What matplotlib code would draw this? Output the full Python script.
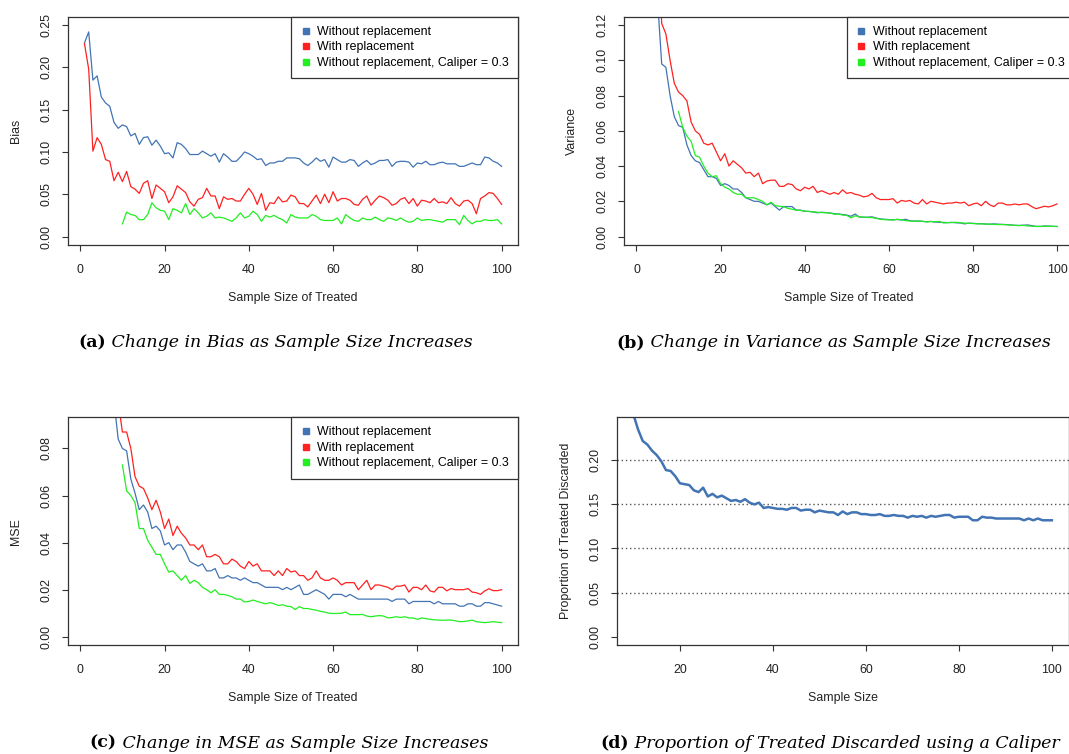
import numpy as np
import matplotlib
matplotlib.use("Agg")
import matplotlib.pyplot as plt
from matplotlib.lines import Line2D

plt.rcParams['font.family'] = ['Liberation Sans', 'DejaVu Sans']

# ---- data ----
n_all = np.arange(1, 101)
n_cal = np.arange(10, 101)

bias_without = [0.229, 0.242, 0.185, 0.190, 0.165, 0.158, 0.154, 0.135, 0.128, 0.132,
                0.130, 0.119, 0.122, 0.109, 0.117, 0.118, 0.108, 0.114, 0.107, 0.098,
                0.099, 0.093, 0.111, 0.109, 0.104, 0.097, 0.097, 0.097, 0.101, 0.098,
                0.095, 0.098, 0.088, 0.098, 0.094, 0.089, 0.089, 0.094, 0.100, 0.098,
                0.095, 0.091, 0.092, 0.084, 0.087, 0.087, 0.089, 0.089, 0.093, 0.093,
                0.093, 0.092, 0.087, 0.084, 0.088, 0.093, 0.089, 0.091, 0.082, 0.094,
                0.091, 0.088, 0.088, 0.091, 0.090, 0.083, 0.087, 0.090, 0.085, 0.087,
                0.090, 0.090, 0.091, 0.083, 0.088, 0.089, 0.089, 0.088, 0.082, 0.087,
                0.086, 0.089, 0.085, 0.085, 0.087, 0.088, 0.086, 0.086, 0.086, 0.083,
                0.083, 0.085, 0.087, 0.085, 0.085, 0.094, 0.093, 0.089, 0.087, 0.083]
bias_with = [0.228, 0.198, 0.101, 0.117, 0.109, 0.091, 0.089, 0.066, 0.076, 0.065,
             0.077, 0.059, 0.056, 0.051, 0.063, 0.066, 0.045, 0.061, 0.057, 0.053,
             0.040, 0.047, 0.060, 0.056, 0.052, 0.041, 0.036, 0.044, 0.046, 0.057,
             0.048, 0.048, 0.033, 0.047, 0.044, 0.045, 0.042, 0.042, 0.050, 0.057,
             0.050, 0.038, 0.051, 0.031, 0.040, 0.039, 0.047, 0.041, 0.042, 0.049,
             0.047, 0.039, 0.039, 0.035, 0.042, 0.049, 0.039, 0.050, 0.040, 0.053,
             0.042, 0.045, 0.045, 0.043, 0.038, 0.037, 0.044, 0.048, 0.037, 0.043,
             0.048, 0.046, 0.043, 0.037, 0.039, 0.044, 0.046, 0.039, 0.045, 0.036,
             0.043, 0.042, 0.040, 0.045, 0.040, 0.041, 0.039, 0.046, 0.039, 0.036,
             0.042, 0.043, 0.039, 0.027, 0.045, 0.048, 0.052, 0.051, 0.045, 0.038]
bias_caliper = [0.015, 0.029, 0.026, 0.025, 0.020, 0.020, 0.026, 0.040, 0.034, 0.031,
                0.030, 0.020, 0.033, 0.031, 0.028, 0.039, 0.026, 0.033, 0.028, 0.022,
                0.024, 0.028, 0.022, 0.023, 0.022, 0.020, 0.018, 0.022, 0.028, 0.022,
                0.024, 0.030, 0.026, 0.018, 0.025, 0.023, 0.025, 0.022, 0.020, 0.016,
                0.026, 0.023, 0.022, 0.022, 0.022, 0.026, 0.024, 0.020, 0.019, 0.019,
                0.019, 0.022, 0.015, 0.026, 0.022, 0.019, 0.018, 0.022, 0.020, 0.020,
                0.023, 0.020, 0.018, 0.022, 0.021, 0.019, 0.022, 0.019, 0.017, 0.018,
                0.022, 0.019, 0.020, 0.020, 0.019, 0.018, 0.017, 0.020, 0.020, 0.020,
                0.014, 0.025, 0.019, 0.015, 0.018, 0.018, 0.020, 0.019, 0.019, 0.020,
                0.015]

var_without = [0.60, 0.40, 0.28, 0.19, 0.135, 0.098, 0.096, 0.080, 0.068, 0.063,
               0.062, 0.052, 0.046, 0.043, 0.042, 0.038, 0.034, 0.034, 0.033, 0.029,
               0.030, 0.029, 0.027, 0.027, 0.025, 0.022, 0.021, 0.020, 0.020, 0.019,
               0.018, 0.019, 0.017, 0.015, 0.017, 0.017, 0.017, 0.015, 0.015, 0.0143,
               0.0143, 0.014, 0.0135, 0.0138, 0.0136, 0.0134, 0.013, 0.0128, 0.0125, 0.0122,
               0.0115, 0.0128, 0.011, 0.011, 0.011, 0.0112, 0.0105, 0.010, 0.0098, 0.0096,
               0.0095, 0.0097, 0.0094, 0.0098, 0.009, 0.0088, 0.0088, 0.0086, 0.0084, 0.0086,
               0.0082, 0.0081, 0.008, 0.0079, 0.008, 0.0078, 0.0077, 0.0072, 0.0076, 0.0075,
               0.0073, 0.0073, 0.0071, 0.007, 0.0072, 0.007, 0.0069, 0.0068, 0.0066, 0.0064,
               0.0063, 0.0064, 0.0066, 0.0062, 0.0058, 0.0057, 0.006, 0.0059, 0.0058, 0.0057]
var_with = [0.80, 0.55, 0.38, 0.26, 0.18, 0.121, 0.115, 0.100, 0.087, 0.082,
            0.080, 0.077, 0.065, 0.060, 0.058, 0.053, 0.052, 0.053, 0.048, 0.043,
            0.047, 0.040, 0.043, 0.041, 0.039, 0.036, 0.0365, 0.034, 0.036, 0.030,
            0.0315, 0.032, 0.032, 0.0285, 0.0285, 0.030, 0.0295, 0.027, 0.026, 0.028,
            0.027, 0.0285, 0.025, 0.026, 0.025, 0.024, 0.025, 0.024, 0.0265, 0.0245,
            0.025, 0.024, 0.0235, 0.0225, 0.023, 0.0245, 0.022, 0.021, 0.021, 0.021,
            0.0215, 0.019, 0.0205, 0.020, 0.0205, 0.019, 0.0185, 0.021, 0.0185, 0.020,
            0.0195, 0.019, 0.0185, 0.019, 0.019, 0.0195, 0.019, 0.0195, 0.0175, 0.0185,
            0.019, 0.0175, 0.020, 0.018, 0.017, 0.019, 0.019, 0.018, 0.018, 0.0185,
            0.018, 0.0185, 0.0185, 0.017, 0.0158, 0.0165, 0.0172, 0.0168, 0.0175, 0.0185]
var_caliper = [0.071, 0.062, 0.057, 0.054, 0.046, 0.045, 0.040, 0.036, 0.034, 0.0345,
               0.030, 0.028, 0.027, 0.025, 0.024, 0.024, 0.022, 0.022, 0.022, 0.021,
               0.020, 0.018, 0.0195, 0.0175, 0.0172, 0.017, 0.016, 0.0155, 0.015, 0.0148,
               0.0145, 0.0142, 0.014, 0.0138, 0.0136, 0.0135, 0.0134, 0.0127, 0.0128, 0.0122,
               0.012, 0.0106, 0.0118, 0.0112, 0.011, 0.0108, 0.0108, 0.0103, 0.0098, 0.0096,
               0.0095, 0.0094, 0.0098, 0.0095, 0.009, 0.0088, 0.0087, 0.0088, 0.0087, 0.0083,
               0.0085, 0.0084, 0.0086, 0.0077, 0.0079, 0.008, 0.0081, 0.0078, 0.0076, 0.0075,
               0.0074, 0.0072, 0.0072, 0.0071, 0.007, 0.0069, 0.0068, 0.0068, 0.0067, 0.0065,
               0.0063, 0.0062, 0.0064, 0.006, 0.0059, 0.0057, 0.0058, 0.0058, 0.0059, 0.0058,
               0.0057]

mse_without = [0.60, 0.40, 0.30, 0.22, 0.17, 0.135, 0.115, 0.100, 0.084, 0.080,
               0.079, 0.067, 0.061, 0.054, 0.056, 0.053, 0.046, 0.047, 0.045, 0.039,
               0.040, 0.037, 0.039, 0.039, 0.036, 0.032, 0.031, 0.030, 0.031, 0.028,
               0.028, 0.029, 0.025, 0.025, 0.026, 0.025, 0.025, 0.024, 0.025, 0.024,
               0.023, 0.023, 0.022, 0.021, 0.021, 0.021, 0.021, 0.020, 0.021, 0.020,
               0.021, 0.022, 0.018, 0.018, 0.019, 0.020, 0.019, 0.018, 0.016, 0.018,
               0.018, 0.018, 0.017, 0.018, 0.017, 0.016, 0.016, 0.016, 0.016, 0.016,
               0.016, 0.016, 0.016, 0.015, 0.016, 0.016, 0.016, 0.014, 0.015, 0.015,
               0.015, 0.015, 0.015, 0.014, 0.015, 0.014, 0.014, 0.014, 0.014, 0.013,
               0.013, 0.014, 0.014, 0.013, 0.013, 0.0145, 0.0145, 0.014, 0.0135, 0.013]
mse_with = [0.65, 0.45, 0.32, 0.24, 0.19, 0.155, 0.13, 0.115, 0.100, 0.087,
            0.087, 0.080, 0.068, 0.064, 0.063, 0.059, 0.054, 0.058, 0.053, 0.046,
            0.050, 0.043, 0.047, 0.044, 0.042, 0.039, 0.039, 0.037, 0.039, 0.034,
            0.034, 0.035, 0.034, 0.031, 0.031, 0.033, 0.032, 0.030, 0.029, 0.032,
            0.030, 0.031, 0.028, 0.028, 0.028, 0.026, 0.028, 0.026, 0.029, 0.0275,
            0.028, 0.026, 0.026, 0.024, 0.025, 0.028, 0.025, 0.024, 0.024, 0.025,
            0.024, 0.022, 0.023, 0.023, 0.023, 0.020, 0.022, 0.024, 0.020, 0.022,
            0.022, 0.0215, 0.021, 0.020, 0.0215, 0.0215, 0.022, 0.019, 0.021, 0.021,
            0.020, 0.022, 0.0195, 0.019, 0.021, 0.021, 0.0195, 0.0205, 0.020, 0.020,
            0.020, 0.0205, 0.019, 0.0187, 0.018, 0.0195, 0.0204, 0.0196, 0.0196, 0.020]
mse_caliper = [0.073, 0.062, 0.060, 0.057, 0.046, 0.046, 0.041, 0.038, 0.035, 0.035,
               0.031, 0.0275, 0.028, 0.026, 0.024, 0.026, 0.0227, 0.024, 0.023, 0.021,
               0.020, 0.0187, 0.020, 0.018, 0.018, 0.0176, 0.017, 0.016, 0.016, 0.0148,
               0.015, 0.0156, 0.015, 0.0145, 0.014, 0.0145, 0.014, 0.0133, 0.0136, 0.013,
               0.0128, 0.0116, 0.0128, 0.012, 0.012, 0.0116, 0.0113, 0.0108, 0.0105, 0.010,
               0.0099, 0.0099, 0.010, 0.0105, 0.0094, 0.0094, 0.0094, 0.0095, 0.0088, 0.0085,
               0.0088, 0.009, 0.0088, 0.008, 0.0082, 0.0085, 0.0082, 0.0085, 0.008, 0.008,
               0.0074, 0.008, 0.0077, 0.0074, 0.0072, 0.0071, 0.007, 0.0071, 0.0071, 0.0068,
               0.0064, 0.0065, 0.0067, 0.0071, 0.0064, 0.0062, 0.006, 0.0062, 0.0064, 0.0062,
               0.006]

prop_discarded = [0.252, 0.235, 0.222, 0.218, 0.211, 0.206, 0.199, 0.189, 0.188, 0.182,
                  0.174, 0.173, 0.172, 0.166, 0.164, 0.169, 0.159, 0.162, 0.158, 0.160,
                  0.157, 0.154, 0.155, 0.153, 0.156, 0.152, 0.150, 0.152, 0.146, 0.147,
                  0.146, 0.145, 0.145, 0.144, 0.146, 0.146, 0.143, 0.144, 0.144, 0.141,
                  0.143, 0.142, 0.141, 0.141, 0.138, 0.142, 0.139, 0.141, 0.141, 0.139,
                  0.139, 0.138, 0.138, 0.139, 0.137, 0.137, 0.138, 0.137, 0.137, 0.135,
                  0.137, 0.136, 0.137, 0.135, 0.137, 0.136, 0.137, 0.138, 0.138, 0.135,
                  0.136, 0.136, 0.136, 0.132, 0.132, 0.136, 0.135, 0.135, 0.134, 0.134,
                  0.134, 0.134, 0.134, 0.134, 0.132, 0.134, 0.132, 0.134, 0.132, 0.132,
                  0.132]

labels = ['Without replacement', 'With replacement', 'Without replacement, Caliper = 0.3']
BLUE, RED, GREEN = '#4274B4', '#FF2020', '#22EE22'

W, H = 1069, 754
fig = plt.figure(figsize=(W / 100, H / 100), dpi=100)


def axes_px(l, t, r, b):
    return fig.add_axes([l / W, 1 - b / H, (r - l) / W, (b - t) / H])


def style(ax, yticks, fmt):
    for s in ax.spines.values():
        s.set_color('#333333')
        s.set_linewidth(0.9)
    ax.set_yticks(yticks)
    ax.set_yticklabels([fmt.format(v) for v in yticks])
    ax.tick_params(direction='out', length=4.5, width=0.8, color='#333333',
                   labelsize=8.9, labelcolor='#222222')
    ax.tick_params(axis='x', pad=9)
    ax.tick_params(axis='y', pad=6.5, labelrotation=90)
    for lab in ax.get_yticklabels():
        lab.set_va('center')


def add_legend(ax):
    handles = [Line2D([], [], ls='none', marker='s', ms=4.2, color=c) for c in (BLUE, RED, GREEN)]
    leg = ax.legend(handles, labels, loc='upper right', borderaxespad=0, fontsize=8.9,
                    fancybox=False, framealpha=1, edgecolor='#333333', borderpad=0.75,
                    handlelength=0.8, handletextpad=0.55, labelspacing=0.28)
    leg.get_frame().set_linewidth(0.9)


def labels_px(ax, xlabel, ylabel, xl_y, yl_x):
    ax.set_xlabel(xlabel, fontsize=8.9, color='#222222')
    ax.set_ylabel(ylabel, fontsize=8.9, color='#222222')
    bb = ax.get_position()
    ax.xaxis.set_label_coords((bb.x0 + bb.x1) / 2, 1 - xl_y / H, transform=fig.transFigure)
    ax.yaxis.set_label_coords(yl_x / W, (bb.y0 + bb.y1) / 2, transform=fig.transFigure)
    ax.xaxis.label.set_va('center')
    ax.yaxis.label.set_va('center')


lw = 0.9
xlim_all = (-2.96, 103.96)

# (a) bias
ax = axes_px(67.8, 16.7, 518.3, 245)
ax.plot(n_all, bias_without, color=BLUE, lw=lw)
ax.plot(n_all, bias_with, color=RED, lw=lw)
ax.plot(n_cal, bias_caliper, color=GREEN, lw=lw)
ax.set_xlim(*xlim_all)
ax.set_ylim(-0.01, 0.26)
ax.set_xticks([0, 20, 40, 60, 80, 100])
style(ax, [0, 0.05, 0.10, 0.15, 0.20, 0.25], '{:.2f}')
add_legend(ax)
labels_px(ax, 'Sample Size of Treated', 'Bias', 298, 16)

# (b) variance
ax = axes_px(624, 16.7, 1073.7, 245)
ax.plot(n_all, var_without, color=BLUE, lw=lw)
ax.plot(n_all, var_with, color=RED, lw=lw)
ax.plot(n_cal, var_caliper, color=GREEN, lw=lw)
ax.set_xlim(*xlim_all)
ax.set_ylim(-0.0048, 0.1248)
ax.set_xticks([0, 20, 40, 60, 80, 100])
style(ax, [0, 0.02, 0.04, 0.06, 0.08, 0.10, 0.12], '{:.2f}')
add_legend(ax)
labels_px(ax, 'Sample Size of Treated', 'Variance', 298, 572)

# (c) MSE
ax = axes_px(67.8, 417.2, 518.3, 645)
ax.plot(n_all, mse_without, color=BLUE, lw=lw)
ax.plot(n_all, mse_with, color=RED, lw=lw)
ax.plot(n_cal, mse_caliper, color=GREEN, lw=lw)
ax.set_xlim(*xlim_all)
ax.set_ylim(-0.0035, 0.0933)
ax.set_xticks([0, 20, 40, 60, 80, 100])
style(ax, [0, 0.02, 0.04, 0.06, 0.08], '{:.2f}')
add_legend(ax)
labels_px(ax, 'Sample Size of Treated', 'MSE', 698, 16)

# (d) proportion discarded
ax = axes_px(616.7, 416.7, 1068.6, 645)
for h in [0.05, 0.10, 0.15, 0.20]:
    ax.axhline(h, color='#555555', lw=1.0, ls=(0, (1, 2)))
ax.plot(n_cal, prop_discarded, color=BLUE, lw=1.8)
ax.set_xlim(6.4, 103.6)
ax.set_ylim(-0.0096, 0.2496)
ax.set_xticks([20, 40, 60, 80, 100])
style(ax, [0, 0.05, 0.10, 0.15, 0.20], '{:.2f}')
labels_px(ax, 'Sample Size', 'Proportion of Treated Discarded', 698, 566)

# captions: bold tag + italic text, centred under each panel
renderer = fig.canvas.get_renderer()
cap_font = ['DejaVu Serif']


def caption(cx, cy, tag, text, size=12.5):
    t1 = fig.text(0, 1 - cy / H, tag, fontsize=size, weight='bold', family=cap_font, va='center')
    t2 = fig.text(0, 1 - cy / H, ' ' + text, fontsize=size, style='italic', family=cap_font, va='center')
    w1 = t1.get_window_extent(renderer).width
    w2 = t2.get_window_extent(renderer).width
    x0 = cx - (w1 + w2) / 2
    t1.set_x(x0 / W)
    t2.set_x((x0 + w1) / W)


caption(276, 343, '(a)', 'Change in Bias as Sample Size Increases')
caption(834, 343, '(b)', 'Change in Variance as Sample Size Increases')
caption(289, 743, '(c)', 'Change in MSE as Sample Size Increases')
caption(830, 743, '(d)', 'Proportion of Treated Discarded using a Caliper')

fig.savefig('out.png', dpi=100)
